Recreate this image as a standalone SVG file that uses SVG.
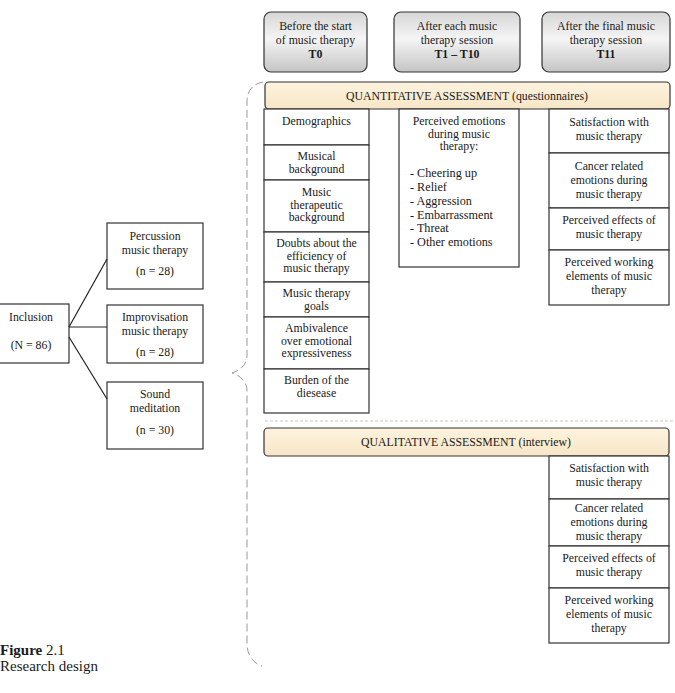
<svg xmlns="http://www.w3.org/2000/svg" width="675" height="693" viewBox="0 0 675 693">
<defs>
<linearGradient id="gray" x1="0" y1="0" x2="0" y2="1">
<stop offset="0" stop-color="#d6d6d6"/>
<stop offset="0.45" stop-color="#f5f5f5"/>
<stop offset="1" stop-color="#c4c4c4"/>
</linearGradient>
<linearGradient id="beige" x1="0" y1="0" x2="0" y2="1">
<stop offset="0" stop-color="#fdf3df"/>
<stop offset="1" stop-color="#f7e6c6"/>
</linearGradient>
</defs>
<style>
text{font-family:"Liberation Serif","Times New Roman",serif;font-size:11.8px;fill:#1a1a1a}
.c{text-anchor:middle}
.b{font-weight:bold}
.box{fill:#fff;stroke:#333;stroke-width:1.2}
.time{fill:url(#gray);stroke:#333;stroke-width:1.2}
.band{fill:url(#beige);stroke:#333;stroke-width:1.2}
.conn{stroke:#222;stroke-width:1.2;fill:none}
.brace{stroke:#999;stroke-width:1;fill:none;stroke-dasharray:8 4}
.sep{stroke:#bbb;stroke-width:0.8;stroke-dasharray:3 2}
.cap{font-size:15px}
</style>

<g id="time-T0">
<rect class="time" x="264" y="12" width="103" height="60" rx="7"/>
<text class="c" x="315.5" y="30">Before the start</text>
<text class="c" x="315.5" y="44">of music therapy</text>
<text class="c b" x="315.5" y="58">T0</text>
</g>
<g id="time-T1">
<rect class="time" x="394" y="12" width="126" height="60" rx="7"/>
<text class="c" x="457" y="30">After each music</text>
<text class="c" x="457" y="44">therapy session</text>
<text class="c b" x="457" y="58">T1 – T10</text>
</g>
<g id="time-T11">
<rect class="time" x="542" y="12" width="128" height="60" rx="7"/>
<text class="c" x="606" y="30">After the final music</text>
<text class="c" x="606" y="44">therapy session</text>
<text class="c b" x="606" y="58">T11</text>
</g>

<g id="quant-band">
<rect class="band" x="265" y="82" width="405" height="27" rx="4"/>
<text class="c" x="467" y="99.5">QUANTITATIVE ASSESSMENT (questionnaires)</text>
</g>

<g id="demographics">
<rect class="box" x="264" y="109" width="105" height="36"/>
<text class="c" x="316.5" y="125">Demographics</text>
</g>
<g id="musical-background">
<rect class="box" x="264" y="145" width="105" height="35"/>
<text class="c" x="316.5" y="160">Musical</text>
<text class="c" x="316.5" y="172.5">background</text>
</g>
<g id="music-therapeutic-background">
<rect class="box" x="264" y="180" width="105" height="52"/>
<text class="c" x="316.5" y="196">Music</text>
<text class="c" x="316.5" y="208.5">therapeutic</text>
<text class="c" x="316.5" y="221">background</text>
</g>
<g id="doubts">
<rect class="box" x="264" y="232" width="105" height="50"/>
<text class="c" x="316.5" y="247">Doubts about the</text>
<text class="c" x="316.5" y="259.5">efficiency of</text>
<text class="c" x="316.5" y="272">music therapy</text>
</g>
<g id="goals">
<rect class="box" x="264" y="282" width="105" height="35"/>
<text class="c" x="316.5" y="297">Music therapy</text>
<text class="c" x="316.5" y="309.5">goals</text>
</g>
<g id="ambivalence">
<rect class="box" x="264" y="317" width="105" height="52"/>
<text class="c" x="316.5" y="332">Ambivalence</text>
<text class="c" x="316.5" y="344.5">over emotional</text>
<text class="c" x="316.5" y="357">expressiveness</text>
</g>
<g id="burden">
<rect class="box" x="264" y="369" width="105" height="44"/>
<text class="c" x="316.5" y="384">Burden of the</text>
<text class="c" x="316.5" y="396.5">diesease</text>
</g>

<g id="perceived-emotions">
<rect class="box" x="399" y="109" width="120" height="158"/>
<text class="c" x="459" y="125">Perceived emotions</text>
<text class="c" x="459" y="137.5">during music</text>
<text class="c" x="459" y="150">therapy:</text>
<text x="410" y="177" style="font-size:12.2px">- Cheering up</text>
<text x="410" y="191" style="font-size:12.2px">- Relief</text>
<text x="410" y="205" style="font-size:12.2px">- Aggression</text>
<text x="410" y="219" style="font-size:12.2px">- Embarrassment</text>
<text x="410" y="232" style="font-size:12.2px">- Threat</text>
<text x="410" y="246" style="font-size:12.2px">- Other emotions</text>
</g>

<g id="q-satisfaction">
<rect class="box" x="549" y="109" width="120" height="44"/>
<text class="c" x="609" y="126">Satisfaction with</text>
<text class="c" x="609" y="140">music therapy</text>
</g>
<g id="q-cancer">
<rect class="box" x="549" y="153" width="120" height="55"/>
<text class="c" x="609" y="170">Cancer related</text>
<text class="c" x="609" y="184">emotions during</text>
<text class="c" x="609" y="198">music therapy</text>
</g>
<g id="q-effects">
<rect class="box" x="549" y="208" width="120" height="42"/>
<text class="c" x="609" y="224">Perceived effects of</text>
<text class="c" x="609" y="238">music therapy</text>
</g>
<g id="q-working">
<rect class="box" x="549" y="250" width="120" height="55"/>
<text class="c" x="609" y="266">Perceived working</text>
<text class="c" x="609" y="280">elements of music</text>
<text class="c" x="609" y="294">therapy</text>
</g>

<line class="sep" x1="265" y1="421" x2="675" y2="421"/>

<g id="qual-band">
<rect class="band" x="264" y="428" width="405" height="28" rx="4"/>
<text class="c" x="466" y="446">QUALITATIVE ASSESSMENT (interview)</text>
</g>
<g id="i-satisfaction">
<rect class="box" x="549" y="456" width="120" height="43"/>
<text class="c" x="609" y="472">Satisfaction with</text>
<text class="c" x="609" y="486">music therapy</text>
</g>
<g id="i-cancer">
<rect class="box" x="549" y="499" width="120" height="47"/>
<text class="c" x="609" y="512">Cancer related</text>
<text class="c" x="609" y="526">emotions during</text>
<text class="c" x="609" y="540">music therapy</text>
</g>
<g id="i-effects">
<rect class="box" x="549" y="546" width="120" height="42"/>
<text class="c" x="609" y="562">Perceived effects of</text>
<text class="c" x="609" y="576">music therapy</text>
</g>
<g id="i-working">
<rect class="box" x="549" y="588" width="120" height="55"/>
<text class="c" x="609" y="604">Perceived working</text>
<text class="c" x="609" y="618">elements of music</text>
<text class="c" x="609" y="632">therapy</text>
</g>

<g id="inclusion">
<rect class="box" x="-2" y="304" width="71" height="59"/>
<text class="c" x="31" y="321">Inclusion</text>
<text class="c" x="31" y="349">(N = 86)</text>
</g>
<g id="percussion">
<rect class="box" x="107" y="223" width="96" height="66"/>
<text class="c" x="155" y="240">Percussion</text>
<text class="c" x="155" y="254">music therapy</text>
<text class="c" x="155" y="275">(n = 28)</text>
</g>
<g id="improvisation">
<rect class="box" x="107" y="305" width="96" height="58"/>
<text class="c" x="155" y="321">Improvisation</text>
<text class="c" x="155" y="335">music therapy</text>
<text class="c" x="155" y="356">(n = 28)</text>
</g>
<g id="sound">
<rect class="box" x="107" y="382" width="96" height="67"/>
<text class="c" x="155" y="398">Sound</text>
<text class="c" x="155" y="412">meditation</text>
<text class="c" x="155" y="434">(n = 30)</text>
</g>

<g id="connectors">
<line class="conn" x1="69" y1="327" x2="107" y2="259"/>
<line class="conn" x1="69" y1="327" x2="107" y2="327"/>
<line class="conn" x1="69" y1="337" x2="107" y2="399"/>
<path class="brace" d="M263,82 Q248,85 247,100 L247,355 Q247,368 232,373 Q247,378 247,391 L247,645 Q248,661 262,666"/>
</g>

<g id="caption">
<text class="cap" x="0" y="655"><tspan class="b">Figure</tspan> 2.1</text>
<text class="cap" x="0" y="671">Research design</text>
</g>
</svg>
